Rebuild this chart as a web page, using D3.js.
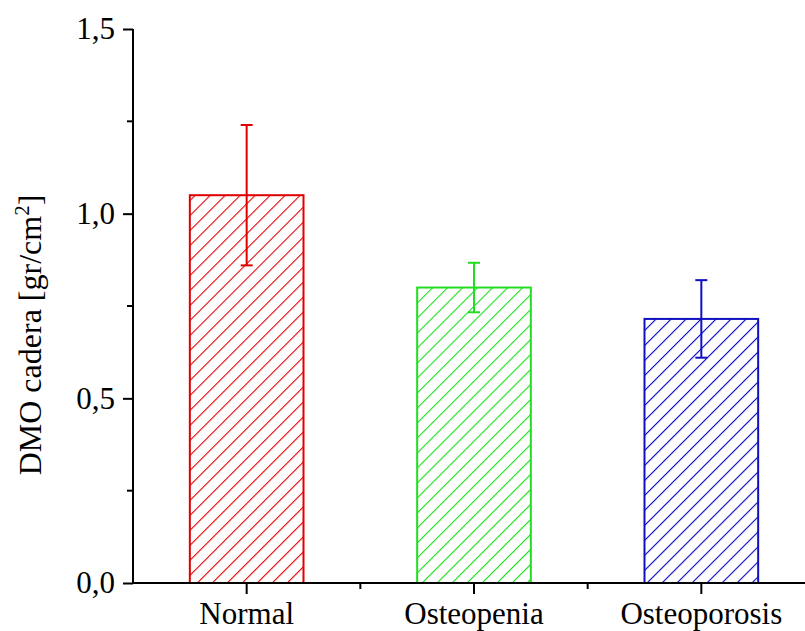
<!DOCTYPE html>
<html>
<head>
<meta charset="utf-8">
<script src="https://cdn.jsdelivr.net/npm/d3@7"></script>
<style>
  body { margin: 0; background: #fff; }
  svg { display: block; font-family: "Liberation Serif", "Times New Roman", serif; }
</style>
</head>
<body>
<svg width="805" height="631"></svg>
<script>
// data
var categories = ["Normal", "Osteopenia", "Osteoporosis"];
var means = [1.05, 0.80, 0.715];
var errors = [0.19, 0.067, 0.105];
var colors = ["#e00000", "#22dd22", "#1010c0"];
var yTicks = [0, 0.5, 1.0, 1.5];
var yMinorTicks = [0.25, 0.75, 1.25];

var svg = d3.select("svg");
var margin = { top: 29, left: 133, bottom: 48 };
var height = 631;
var plotBottom = height - margin.bottom;

var x = d3.scaleBand()
    .domain(categories)
    .range([margin.left, 815])
    .paddingInner(0.5)
    .paddingOuter(0.25);

var y = d3.scaleLinear()
    .domain([0, 1.5])
    .range([plotBottom, margin.top]);

// hatch patterns, one per colour
var defs = svg.append("defs");
colors.forEach(function (c, i) {
    var p = defs.append("pattern")
        .attr("id", "hatch" + i)
        .attr("patternUnits", "userSpaceOnUse")
        .attr("width", 10.6)
        .attr("height", 10.6)
        .attr("patternTransform", "rotate(45)");
    p.append("line")
        .attr("x1", 0).attr("y1", 0)
        .attr("x2", 0).attr("y2", 10.6)
        .attr("stroke", c)
        .attr("stroke-width", 2.2);
});

var data = categories.map(function (c, i) {
    return { cat: c, mean: means[i], err: errors[i], color: colors[i], idx: i };
});

// bars
svg.append("g").selectAll("rect")
    .data(data)
    .enter()
    .append("rect")
    .attr("x", function (d) { return x(d.cat); })
    .attr("y", function (d) { return y(d.mean); })
    .attr("width", x.bandwidth())
    .attr("height", function (d) { return y(0) - y(d.mean); })
    .attr("fill", function (d) { return "url(#hatch" + d.idx + ")"; })
    .attr("stroke", function (d) { return d.color; })
    .attr("stroke-width", 2);

// error bars
var eb = svg.append("g").selectAll("g")
    .data(data)
    .enter()
    .append("g")
    .attr("stroke", function (d) { return d.color; })
    .attr("stroke-width", 2);
var cx = function (d) { return x(d.cat) + x.bandwidth() / 2; };
eb.append("line")
    .attr("x1", cx).attr("x2", cx)
    .attr("y1", function (d) { return y(d.mean + d.err); })
    .attr("y2", function (d) { return y(d.mean - d.err); });
eb.append("line")
    .attr("x1", function (d) { return cx(d) - 6; })
    .attr("x2", function (d) { return cx(d) + 6; })
    .attr("y1", function (d) { return y(d.mean + d.err); })
    .attr("y2", function (d) { return y(d.mean + d.err); });
eb.append("line")
    .attr("x1", function (d) { return cx(d) - 6; })
    .attr("x2", function (d) { return cx(d) + 6; })
    .attr("y1", function (d) { return y(d.mean - d.err); })
    .attr("y2", function (d) { return y(d.mean - d.err); });

// y axis
var yAxis = d3.axisLeft(y)
    .tickValues(yTicks)
    .tickSize(10)
    .tickPadding(8)
    .tickFormat(function (d) { return d3.format(".1f")(d).replace(".", ","); });
var yGroup = svg.append("g")
    .attr("transform", "translate(" + margin.left + ",0)")
    .call(yAxis);
yGroup.select(".domain").attr("stroke-width", 2).attr("d", "M0," + y(1.5) + "V" + y(0));
yGroup.selectAll(".tick line").attr("stroke-width", 2);
yGroup.selectAll("text").attr("font-size", 31).attr("font-family", "Liberation Serif").attr("fill", "#000");
yGroup.selectAll("line.minor")
    .data(yMinorTicks)
    .enter()
    .append("line")
    .attr("class", "minor")
    .attr("x1", -6).attr("x2", 0)
    .attr("y1", function (d) { return y(d); })
    .attr("y2", function (d) { return y(d); })
    .attr("stroke", "#000")
    .attr("stroke-width", 2);

// x axis
var xAxis = d3.axisBottom(x).tickSize(11).tickPadding(8);
var xGroup = svg.append("g")
    .attr("transform", "translate(0," + plotBottom + ")")
    .call(xAxis);
xGroup.select(".domain").attr("stroke-width", 2).attr("d", "M" + margin.left + ",0H815");
xGroup.selectAll(".tick line").attr("stroke-width", 2);
xGroup.selectAll("text").attr("font-size", 31).attr("font-family", "Liberation Serif").attr("fill", "#000");
var between = categories.slice(0, -1).map(function (c) {
    return x(c) + x.bandwidth() + (x.step() - x.bandwidth()) / 2;
});
xGroup.selectAll("line.minor")
    .data(between)
    .enter()
    .append("line")
    .attr("class", "minor")
    .attr("x1", function (d) { return d; })
    .attr("x2", function (d) { return d; })
    .attr("y1", 0).attr("y2", 6)
    .attr("stroke", "#000")
    .attr("stroke-width", 2);

// y axis title
var title = svg.append("text")
    .attr("transform", "translate(41," + ((y(0) + y(1.5)) / 2 + 29) + ") rotate(-90)")
    .attr("text-anchor", "middle")
    .attr("font-size", 32)
    .attr("fill", "#000");
title.append("tspan").text("DMO cadera [gr/cm");
title.append("tspan").attr("baseline-shift", "super").attr("font-size", 21).text("2");
title.append("tspan").text("]");
</script>
</body>
</html>
